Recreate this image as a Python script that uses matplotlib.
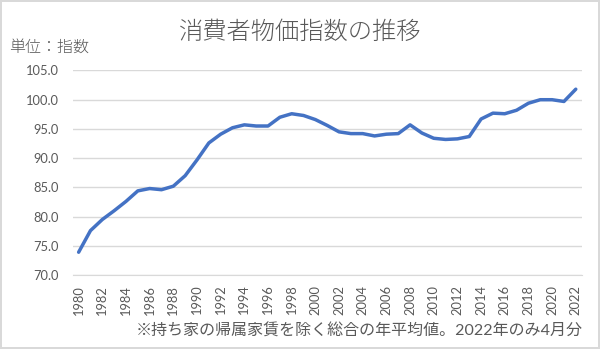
import matplotlib.pyplot as plt

# 消費者物価指数（持ち家の帰属家賃を除く総合）
years = list(range(1980, 2023))
cpi = [73.9, 77.6, 79.5, 81.0, 82.6, 84.4, 84.8, 84.6, 85.2, 87.0,
       89.7, 92.6, 94.1, 95.2, 95.7, 95.5, 95.5, 97.0, 97.6, 97.3,
       96.6, 95.6, 94.5, 94.2, 94.2, 93.8, 94.1, 94.2, 95.7, 94.3,
       93.4, 93.2, 93.3, 93.7, 96.7, 97.7, 97.6, 98.2, 99.4, 100.0,
       100.0, 99.7, 101.8]
yticks = [70, 75, 80, 85, 90, 95, 100, 105]

plt.rcParams['font.family'] = ['Lato', 'Noto Sans CJK JP', 'DejaVu Sans']
text_color = '#595959'
grid_color = '#d9d9d9'
cjk = ['Noto Sans CJK JP', 'DejaVu Sans']

fig = plt.figure(figsize=(6.0, 3.49), dpi=100)
fig.patch.set_edgecolor(grid_color)
fig.patch.set_linewidth(1.5)

ax = fig.add_axes([0.1212, 0.212, 0.8483, 0.586])
x = list(range(len(years)))
ax.plot(x, cpi, color='#4472C4', linewidth=2.5, solid_capstyle='round',
        solid_joinstyle='round', zorder=3)

ax.set_xlim(-0.5, len(years) - 0.5)
ax.set_ylim(70, 105)
ax.set_yticks(yticks)
ax.set_yticklabels([f'{v:.1f}' for v in yticks])
ax.set_xticks(x[::2])
ax.set_xticklabels([str(y) for y in years[::2]], rotation=90)

ax.grid(axis='y', color=grid_color, linewidth=1.0)
ax.set_axisbelow(True)
for side in ['top', 'right', 'left']:
    ax.spines[side].set_visible(False)
ax.spines['bottom'].set_color(grid_color)
ax.tick_params(axis='both', length=0, colors=text_color, labelsize=9.3)
ax.tick_params(axis='y', pad=10)
ax.tick_params(axis='x', pad=7)

fig.text(0.501, 0.908, '消費者物価指数の推移', ha='center', va='center',
         fontsize=17.5, color=text_color, family=cjk, fontweight='light')
fig.text(0.015, 0.865, '単位：指数', ha='left', va='center',
         fontsize=11.5, color=text_color, family=cjk, fontweight='light')
fig.text(0.972, 0.05, '※持ち家の帰属家賃を除く総合の年平均値。2022年のみ4月分',
         ha='right', va='center', fontsize=11.5, color=text_color)

fig.savefig('out.png', dpi=100)
